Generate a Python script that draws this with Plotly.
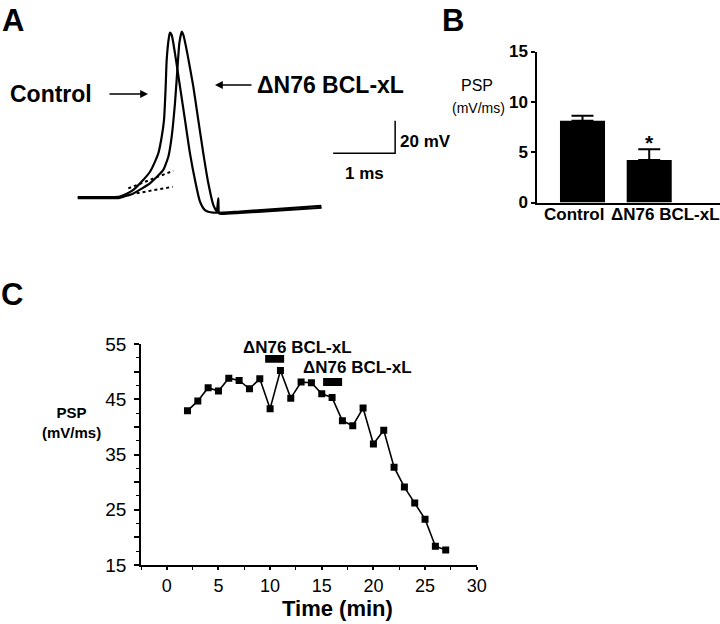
import plotly.graph_objects as go

W, H = 720, 624
FONT = "Liberation Sans, Arial, sans-serif"

# ---------------- Panel A: action potential traces (time in ms, voltage in mV rel. baseline)
control_t = [0.0, 0.36, 0.68, 0.897, 1.166, 1.300, 1.355, 1.392, 1.419, 1.435, 1.473, 1.489,
             1.516, 1.569, 1.650, 1.731, 1.811, 1.892, 1.973, 2.053, 2.187, 2.618, 3.93]
control_v = [0.0, 0.0, 0.2, 4.3, 15.5, 26.8, 37.0, 47.2, 67.7, 84.0, 98.3, 100.8,
             99.4, 88.1, 67.7, 47.2, 26.8, 10.4, -2.9, -8.0, -9.6, -8.9, -5.5]

dn76_t = [0.0, 0.36, 0.68, 0.897, 1.166, 1.381, 1.462, 1.516, 1.569, 1.607, 1.639, 1.677,
          1.704, 1.768, 1.865, 1.945, 2.026, 2.107, 2.187, 2.242, 2.268, 2.279, 2.323, 2.618, 3.935]
dn76_v = [-0.7, -0.7, -0.5, 2.2, 8.4, 16.6, 24.7, 37.0, 57.5, 77.9, 94.3, 101.4,
          99.4, 88.1, 67.7, 47.2, 26.8, 8.4, -4.9, -9.0, -0.8, -10.0, -10.4, -9.8, -6.6]

# extrapolated subthreshold (PSP) slopes, dotted
psp_fit_ctrl_t = [0.816, 1.542]
psp_fit_ctrl_v = [5.3, 16.1]
psp_fit_dn76_t = [0.951, 1.532]
psp_fit_dn76_v = [2.3, 6.3]

# scale bar: 1 ms, 20 mV
scale_t = [4.12, 5.12, 5.12]
scale_v = [26.8, 26.8, 46.8]

# ---------------- Panel B: PSP slope bars
bar_labels = ["Control", "ΔN76 BCL-xL"]
bar_pos = [0, 1]
bar_means = [8.12, 4.22]
bar_sem = [0.50, 1.06]
b_yticks = [0, 5, 10, 15]

# ---------------- Panel C: PSP over time
time_min = [2, 3, 4, 5, 6, 7, 8, 9, 10, 11, 12, 13, 14, 15, 16, 17, 18, 19, 20, 21, 22, 23, 24, 25, 26, 27]
psp_values = [42.9, 44.7, 47.1, 46.5, 48.8, 48.4, 46.9, 48.7, 43.3, 50.2, 45.2, 48.1, 48.0, 46.0,
              45.3, 41.1, 40.2, 43.4, 36.9, 39.4, 32.7, 29.1, 26.2, 23.3, 18.4, 17.7]
app_start = [9.52, 15.13]
app_end = [11.36, 16.97]
app_y0 = [51.6, 47.4]
app_y1 = [53.0, 48.85]
app_label_x = [12.66, 18.5]
app_label_y = [54.3, 50.7]
c_xticks = [0, 5, 10, 15, 20, 25, 30]
c_yticks = [15, 20, 25, 30, 35, 40, 45, 50, 55]
c_yticktext = ["15", "", "25", "", "35", "", "45", "", "55"]


def px(x):
    return x / W


def py(y):
    return 1 - y / H


fig = go.Figure()

# Panel A traces
fig.add_trace(go.Scatter(x=control_t, y=control_v, mode="lines",
                         line=dict(color="black", width=2.2, shape="spline", smoothing=0.6),
                         xaxis="x", yaxis="y", hoverinfo="skip"))
fig.add_trace(go.Scatter(x=dn76_t, y=dn76_v, mode="lines",
                         line=dict(color="black", width=2.2, shape="spline", smoothing=0.4),
                         xaxis="x", yaxis="y", hoverinfo="skip"))
for tt, vv in [(psp_fit_ctrl_t, psp_fit_ctrl_v), (psp_fit_dn76_t, psp_fit_dn76_v)]:
    fig.add_trace(go.Scatter(x=tt, y=vv, mode="lines",
                             line=dict(color="black", width=2, dash="dot"),
                             xaxis="x", yaxis="y", hoverinfo="skip"))
fig.add_trace(go.Scatter(x=scale_t, y=scale_v, mode="lines",
                         line=dict(color="black", width=1.5),
                         xaxis="x", yaxis="y", hoverinfo="skip"))

# Panel B bars
fig.add_trace(go.Bar(x=bar_pos, y=bar_means, width=0.675, marker=dict(color="black", line=dict(width=0)),
                     error_y=dict(type="data", array=bar_sem, arrayminus=[0, 0], color="black",
                                  thickness=2, width=11),
                     xaxis="x2", yaxis="y2", hoverinfo="skip"))

# Panel C time course
fig.add_trace(go.Scatter(x=time_min, y=psp_values, mode="lines+markers",
                         line=dict(color="black", width=1.6),
                         marker=dict(symbol="square", size=7, color="black"),
                         xaxis="x3", yaxis="y3", hoverinfo="skip"))

# invisible full-page frame used only to place free text (pixel units)
fig.add_trace(go.Scatter(x=[], y=[], xaxis="x4", yaxis="y4", hoverinfo="skip"))

shapes = []
for s, e, y0, y1 in zip(app_start, app_end, app_y0, app_y1):
    shapes.append(dict(type="rect", xref="x3", yref="y3", x0=s, x1=e, y0=y0, y1=y1,
                       fillcolor="black", line=dict(width=0)))

ann = []


def text(x, y, t, size, bold=True, xanchor="center", xref="x4", yref="y4", yanchor="middle"):
    ann.append(dict(x=x, y=y, xref=xref, yref=yref, text=("<b>%s</b>" % t) if bold else t,
                    showarrow=False, xanchor=xanchor, yanchor=yanchor,
                    font=dict(family=FONT, size=size, color="black")))


# panel letters
text(13, 0.5, "A", 31, yanchor="top")
text(453, 0.5, "B", 31, yanchor="top")
text(12, 294, "C", 31)

# panel A labels
text(51, 94, "Control", 23)
text(255, 85, "ΔN76 BCL-xL", 23, xanchor="left")
ann.append(dict(x=148, y=94, xref="x4", yref="y4", text="", showarrow=True,
                ax=-40, ay=0, arrowhead=2, arrowsize=1.2, arrowwidth=1.3, arrowcolor="black"))
ann.append(dict(x=215, y=85, xref="x4", yref="y4", text="", showarrow=True,
                ax=38, ay=0, arrowhead=2, arrowsize=1.2, arrowwidth=1.3, arrowcolor="black"))
text(5.166, 33.9, "20 mV", 17, xanchor="left", xref="x", yref="y")
text(4.63, 14.7, "1 ms", 17, xref="x", yref="y")

# panel B labels
text(477, 85, "PSP", 16, bold=False)
text(478, 108, "(mV/ms)", 14, bold=False)
text(-0.127, 0.0, "Control", 17, xref="x2", yref="y2", yanchor="top")
text(1.245, 0.0, "ΔN76 BCL-xL", 17, xref="x2", yref="y2", yanchor="top")
text(bar_pos[1], 6.0, "*", 21, xref="x2", yref="y2")

# panel C labels
text(71, 422, "PSP<br>(mV/ms)", 15)
text(337, 608, "Time (min)", 22)
for lx, ly in zip(app_label_x, app_label_y):
    text(lx, ly, "ΔN76 BCL-xL", 17, xref="x3", yref="y3")

hidden = dict(visible=False, showgrid=False, zeroline=False, automargin=False)

fig.update_layout(
    width=W, height=H, margin=dict(l=0, r=0, t=0, b=0, autoexpand=False),
    paper_bgcolor="white", plot_bgcolor="rgba(0,0,0,0)", showlegend=False,
    font=dict(family=FONT, color="black"),
    xaxis=dict(domain=[px(70), px(410)], range=[-0.1242, 5.3597], anchor="y", **hidden),
    yaxis=dict(domain=[py(230), py(20)], range=[-20.245, 108.589], anchor="x", **hidden),
    xaxis4=dict(domain=[0, 1], range=[0, W], anchor="y4", **hidden),
    yaxis4=dict(domain=[0, 1], range=[H, 0], anchor="x4", **hidden),
    xaxis2=dict(domain=[px(537), 1.0], range=[-0.682, 2.061], anchor="y2", automargin=False,
                showline=True, linecolor="black", linewidth=1.5, showgrid=False, zeroline=False,
                showticklabels=False, ticks=""),
    yaxis2=dict(domain=[py(202.5), py(51.5)], range=[0, 15], anchor="x2", automargin=False,
                showline=True, linecolor="black", linewidth=1.5, showgrid=False, zeroline=False,
                tickvals=b_yticks, ticks="outside", ticklen=4, tickwidth=1.5, tickcolor="black",
                tickfont=dict(family=FONT, size=17, color="black", weight="bold")),
    xaxis3=dict(domain=[px(141), px(476.7)], range=[-2.5, 30], anchor="y3", automargin=False,
                showline=True, linecolor="black", linewidth=2, showgrid=False, zeroline=False,
                tickvals=c_xticks, ticks="outside", ticklen=3, tickwidth=1.5, tickcolor="black",
                tickfont=dict(family=FONT, size=18, color="black"),
                minor=dict(dtick=2.5, tick0=0, ticks="outside", ticklen=3, tickwidth=1.2,
                           tickcolor="black")),
    yaxis3=dict(domain=[py(565), py(344)], range=[15, 55], anchor="x3", automargin=False,
                showline=True, linecolor="black", linewidth=1.6, showgrid=False, zeroline=False,
                tickvals=c_yticks, ticktext=c_yticktext, ticks="outside", ticklen=5, tickwidth=1.5,
                tickcolor="black", ticklabelstandoff=4,
                tickfont=dict(family=FONT, size=19, color="black"),
                minor=dict(dtick=2.5, tick0=15, ticks="outside", ticklen=3, tickwidth=1.2,
                           tickcolor="black")),
    shapes=shapes,
    annotations=ann,
)

fig.write_html("out.html", config={"displayModeBar": False},
               post_script="document.body.style.margin='0px';document.body.style.overflow='hidden';")
